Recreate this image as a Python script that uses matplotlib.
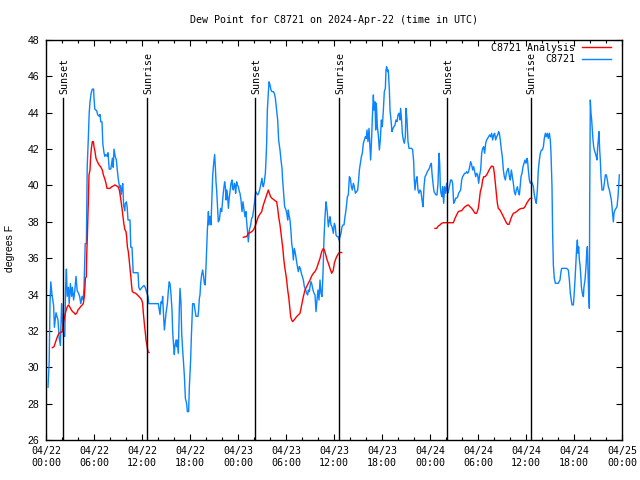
import numpy as np
import matplotlib
matplotlib.use("Agg")
import matplotlib.pyplot as plt

# ---------------- data (hours since 2024-04-22 00:00 UTC, degrees F) -------------
obs_hours = [
    0.25, 0.4, 0.5, 0.6, 0.75, 0.95, 1.05, 1.25, 1.5, 1.65, 1.8, 1.95, 2.05, 2.2, 2.35, 2.45,
    2.55, 2.65, 2.8, 2.9, 3.05, 3.2, 3.3, 3.45, 3.6, 3.75, 3.9, 4.05, 4.2, 4.35, 4.5, 4.65,
    4.75, 4.9, 5.05, 5.15, 5.3, 5.4, 5.5, 5.65, 5.8, 5.95, 6.0, 6.1, 6.35, 6.45, 6.65, 6.75,
    6.85, 7.0, 7.1, 7.25, 7.35, 7.5, 7.65, 7.75, 7.9, 8.1, 8.2, 8.3, 8.4, 8.5, 8.65, 8.8,
    8.9, 9.05, 9.2, 9.3, 9.4, 9.55, 9.6, 9.7, 9.85, 9.9, 10.05, 10.15, 10.25, 10.5, 10.6, 10.75,
    10.9, 11.25, 11.5, 11.6, 11.75, 12.0, 12.25, 12.4, 12.6, 12.75, 12.85, 13.0,
    14.04, 14.17, 14.25, 14.375, 14.5, 14.58, 14.7, 14.8, 14.9, 15.0, 15.17, 15.3, 15.4, 15.5,
    15.6, 15.75, 15.83, 15.9, 16.04, 16.1, 16.25, 16.33, 16.4, 16.54, 16.67, 16.75, 16.875,
    16.96, 17.08, 17.17, 17.3, 17.42, 17.58, 17.67, 17.83, 17.92, 18.08, 18.17, 18.25, 18.33,
    18.5, 18.625, 18.75, 19.0, 19.08, 19.17, 19.25, 19.33, 19.46, 19.58, 19.7, 19.8, 19.9,
    20.0, 20.17, 20.3, 20.375, 20.5, 20.625, 20.75, 20.83, 20.96, 21.08, 21.17, 21.25, 21.33,
    21.46, 21.54, 21.67, 21.83, 21.96, 22.08, 22.2, 22.33, 22.42, 22.5, 22.58, 22.7, 22.8,
    22.9, 23.0, 23.125, 23.25, 23.33, 23.42, 23.54, 23.625, 23.7, 23.83, 23.92, 24.04, 24.17,
    24.25, 24.375, 24.5, 24.625, 24.75, 24.875, 25.0, 25.08, 25.21, 25.29, 25.42, 25.58, 25.71,
    25.83, 25.92, 26.0, 26.125, 26.21, 26.33, 26.46, 26.58, 26.75, 26.875, 27.0, 27.08, 27.17,
    27.29, 27.42, 27.5, 27.58, 27.67, 27.79, 27.875, 28.0, 28.125, 28.25, 28.42, 28.54, 28.67,
    28.83, 28.96, 29.08, 29.25, 29.375, 29.5, 29.58, 29.71, 29.83, 30.0, 30.125, 30.21, 30.29,
    30.375, 30.5, 30.625, 30.71, 30.83, 30.92, 31.04, 31.17, 31.29, 31.42, 31.54, 31.67, 31.79,
    31.92, 32.04, 32.17, 32.29, 32.46, 32.58, 32.71, 32.79, 32.92, 33.0, 33.125, 33.25, 33.375,
    33.5, 33.625, 33.75, 33.875, 34.0, 34.125, 34.25, 34.375, 34.5, 34.625, 34.75, 34.875, 35.0,
    35.08, 35.17, 35.29, 35.42, 35.5, 35.625, 35.75, 35.92, 36.04, 36.17, 36.25, 36.375, 36.5,
    36.625, 36.75, 36.875, 37.0, 37.125, 37.25, 37.375, 37.5, 37.58, 37.67, 37.79, 37.92, 38.04,
    38.17, 38.29, 38.42, 38.54, 38.67, 38.83, 38.96, 39.08, 39.17, 39.29, 39.42, 39.54, 39.67,
    39.79, 39.92, 40.04, 40.125, 40.25, 40.375, 40.5, 40.58, 40.71, 40.79, 40.92, 41.0, 41.125,
    41.21, 41.29, 41.42, 41.54, 41.67, 41.79, 41.92, 42.04, 42.17, 42.29, 42.42, 42.5, 42.58,
    42.71, 42.79, 42.92, 43.0, 43.125, 43.25, 43.375, 43.5, 43.625, 43.75, 43.875, 44.0, 44.125,
    44.25, 44.33, 44.46, 44.54, 44.67, 44.79, 44.92, 45.0, 45.125, 45.25, 45.375, 45.71, 45.83,
    45.96, 46.04, 46.125, 46.25, 46.375, 46.5, 46.625,
    46.75, 46.875, 47.0, 47.125, 47.25, 47.375, 47.5, 47.67, 47.79, 47.92, 48.04, 48.17, 48.25,
    48.375, 48.5, 48.625, 48.75, 48.875, 49.0, 49.125, 49.21, 49.29, 49.375, 49.5, 49.58, 49.71,
    49.83, 49.96, 50.08, 50.21, 50.33, 50.46, 50.58, 50.71, 50.83, 50.96, 51.08, 51.21, 51.33,
    51.46, 51.58, 51.71, 51.83, 51.96, 52.08, 52.21, 52.33, 52.46, 52.58, 52.71, 52.83, 52.96,
    53.08, 53.21, 53.33, 53.46, 53.58, 53.71, 53.83, 53.96, 54.08, 54.21, 54.33, 54.46, 54.58,
    54.71, 54.83, 54.96, 55.08, 55.21, 55.33, 55.46, 55.58, 55.71, 55.83, 55.96, 56.08, 56.21,
    56.33, 56.46, 56.58, 56.67, 56.79, 56.92, 57.04, 57.17, 57.29, 57.42, 57.54, 57.67, 57.79,
    57.92, 58.04, 58.17, 58.29, 58.42, 58.54, 58.67, 58.79, 58.92, 59.04, 59.17,
    59.25, 59.375, 59.5, 59.625, 59.75, 59.875, 60.0, 60.125, 60.21, 60.29, 60.42, 60.54, 60.67,
    60.79, 60.92, 61.04, 61.17, 61.29, 61.42, 61.54, 61.67, 61.79, 61.92, 62.04, 62.17, 62.29,
    62.42, 62.54, 62.67, 62.79, 62.92, 63.04, 63.125, 63.25, 63.33, 63.42, 63.54, 63.67, 64.04,
    64.25, 64.375, 64.46, 65.08, 65.29, 65.42, 65.54, 65.625, 65.75, 65.92, 66.0, 66.125, 66.25,
    66.33, 66.42, 66.5, 66.58, 66.67, 66.75, 66.83, 66.92, 67.04, 67.17, 67.25, 67.375, 67.5,
    67.58, 67.67, 67.75, 67.83, 67.92, 67.96, 68.04, 68.125, 68.21, 68.29, 68.375, 68.46, 68.54,
    68.67, 68.79, 68.875, 68.96, 69.04, 69.125, 69.21, 69.29, 69.375, 69.5, 69.67, 69.79, 69.92,
    70.04, 70.17, 70.29, 70.42, 70.54, 70.67, 70.79, 70.92, 71.0, 71.125, 71.25, 71.375, 71.5,
    71.58, 71.67,
]
obs_values = [
    28.9, 30.3, 33.5, 34.7, 34.0, 33.4, 32.2, 33.0, 32.6, 31.6, 31.2, 33.5, 32.6, 31.7, 31.7, 34.4,
    35.4, 33.9, 34.4, 33.5, 34.6, 33.9, 34.4, 33.7, 34.2, 35.0, 34.2, 34.1, 33.9, 33.5, 33.9, 33.7,
    34.4, 36.8, 36.8, 41.0, 42.7, 44.0, 44.6, 45.1, 45.3, 45.3, 44.8, 44.2, 44.1, 43.9, 43.8, 43.9,
    43.5, 43.5, 42.3, 41.8, 41.6, 41.7, 41.6, 41.8, 40.9, 40.9, 41.2, 41.5, 41.0, 42.0, 41.6, 41.4,
    40.9, 40.3, 39.9, 40.0, 39.5, 40.0, 40.1, 38.9, 38.6, 39.0, 39.1, 38.8, 38.1, 38.1, 36.6, 36.6,
    35.2, 35.2, 35.2, 34.4, 34.25, 34.4, 34.5, 34.4, 34.1, 33.9, 33.5, 33.5,
    33.5, 33.15, 32.9, 33.6, 33.5, 33.9, 32.8, 32.05, 32.5, 32.97, 33.5, 34.25, 34.7, 34.6,
    34.16, 33.15, 32.05, 31.5, 30.7, 31.13, 31.5, 31.13, 31.5, 30.77, 33.3, 34.34, 33.5,
    31.87, 30.95, 30.4, 29.5, 28.3, 28.0, 27.56, 27.56, 28.94, 30.4, 31.7, 32.6, 33.5,
    33.5, 33.15, 32.8, 32.8, 33.15, 33.8, 33.98, 34.6, 35.1, 35.35, 34.98, 34.6, 34.53,
    35.53, 37.55, 38.56, 37.83, 38.3, 37.83, 39.4, 40.5, 41.22, 41.7, 41.0, 40.2, 39.75,
    38.65, 38.0, 38.1, 38.74, 38.56, 39.2, 39.75, 40.2, 39.93, 39.2, 39.75, 39.4, 38.74,
    39.3, 39.66, 40.12, 40.3, 39.84, 39.75, 40.12, 40.03, 39.57, 40.2, 40.03, 39.93, 39.66,
    39.57, 39.2, 38.56, 39.1, 38.65, 38.28, 38.56, 38.0, 37.37, 36.9, 37.55, 37.83, 38.2,
    38.28, 38.56, 38.83, 39.3, 39.66, 39.57, 39.48, 39.57, 39.84, 40.12, 40.4, 40.03, 39.93,
    40.2, 40.67, 41.4, 42.32, 44.15, 45.07, 45.7, 45.53, 45.25, 45.16, 45.16, 45.07, 44.8,
    44.15, 43.6, 42.5, 41.95, 41.4, 40.94, 40.3, 39.57, 38.83, 38.65, 38.38, 38.1, 38.65,
    38.38, 38.1, 37.46, 36.82, 36.45, 35.9, 36.54, 36.27, 35.9, 35.54, 35.26, 35.54, 35.44,
    35.17, 34.99, 34.8, 34.44, 34.25, 34.07, 33.98, 34.25, 34.16, 34.44, 34.71, 34.53, 34.25,
    34.07, 33.98, 33.06, 33.7, 34.25, 33.7, 34.8, 34.07, 33.89, 35.17, 37.1, 38.28, 39.1,
    38.83, 38.47, 37.73, 38.1, 38.28, 37.83, 37.73, 37.37, 37.92, 37.73, 37.28, 37.19, 37.19,
    37.0, 37.19, 37.37, 37.73, 37.83, 37.83, 38.28, 38.65, 39.02, 39.38, 39.48, 40.48, 40.4,
    39.93, 39.75, 40.12, 39.93, 39.57, 39.66, 39.75, 40.3, 40.85, 41.22, 41.58, 41.77, 42.32,
    42.5, 42.68, 42.59, 43.05, 42.41, 43.14, 42.13, 41.4, 42.68, 43.69, 44.98, 44.15, 44.6,
    43.05, 44.52, 43.23, 42.78, 41.95, 42.5, 43.6, 43.23, 44.15, 45.16, 45.34, 46.35, 46.53,
    46.26, 46.35, 45.25, 44.15, 43.6, 42.96, 43.14, 43.23, 43.33, 43.6, 43.51, 43.88, 43.97,
    43.6, 44.24, 43.51, 42.87, 42.5, 42.32, 42.68, 44.24, 43.6, 42.41, 42.04, 42.04, 41.95,
    41.31, 40.3, 39.75, 40.3, 40.48, 39.75, 39.57,
    39.75, 39.66, 39.2, 38.83, 39.93, 40.48, 40.58, 40.76, 40.85, 40.94, 41.13, 41.22, 40.67,
    40.12, 39.66, 39.57, 39.48, 39.48, 40.12, 41.77, 41.22, 39.93, 39.57, 39.38, 39.93, 39.02,
    39.93, 39.57, 40.12, 39.57, 39.75, 40.03, 40.3, 40.3, 40.12, 39.02, 39.11, 39.3, 39.3,
    39.38, 39.57, 39.66, 39.75, 40.3, 40.48, 40.58, 40.67, 40.67, 40.76, 40.67, 40.76, 41.03,
    41.31, 41.13, 40.85, 41.03, 40.76, 40.48, 40.67, 40.58, 40.12, 40.58, 40.85, 41.77, 42.04,
    42.13, 41.77, 42.32, 42.5, 42.59, 42.68, 42.78, 42.68, 42.87, 42.5, 42.78, 42.87, 42.5,
    42.68, 42.78, 42.96, 42.87, 42.5, 41.95, 41.58, 40.85, 40.48, 40.3, 40.67, 40.85, 40.94,
    40.48, 40.3, 40.85, 40.48, 40.12, 39.66, 39.48, 39.75, 39.93, 39.66, 39.48,
    39.84, 40.48, 40.67, 41.03, 41.22, 41.4, 41.22, 41.49, 41.31, 40.85, 40.3, 40.12, 40.21,
    40.12, 39.93, 39.48, 39.2, 39.02, 39.75, 40.85, 41.4, 41.77, 41.95, 41.95, 42.13, 42.59,
    42.87, 42.68, 42.87, 42.59, 42.87, 42.5, 41.77, 39.93, 37.37, 35.63, 34.89, 34.62, 34.62,
    34.8, 35.26, 35.44, 35.44, 35.35, 34.8, 34.07, 33.79, 33.43, 33.43, 33.88, 34.8, 35.9,
    36.54, 37.0, 36.27, 36.63, 35.9, 35.63, 35.17, 34.44, 34.07, 33.88, 34.44, 34.8, 35.53,
    36.18, 36.63, 35.35, 34.07, 33.24, 39.02, 44.7, 43.97, 43.6, 43.05, 42.5, 42.13, 41.95,
    41.77, 41.58, 41.4, 42.13, 42.5, 42.96, 41.95, 41.4, 40.48, 39.75, 39.75, 40.12, 40.58,
    40.58, 40.3, 39.93, 39.75, 39.48, 39.2, 38.65, 38.0, 38.47, 38.65, 38.74, 38.83, 39.38,
    39.93, 40.58,
]

ana1_hours = [0.79, 1.0, 1.21, 1.42, 1.625, 2.04, 2.17, 2.33, 2.5, 2.67, 2.83, 3.0, 3.17, 3.33,
              3.5, 3.67, 3.83, 4.0, 4.17, 4.33, 4.54, 4.67, 4.79, 4.875, 4.92, 5.04, 5.08, 5.17,
              5.25, 5.29, 5.375, 5.5, 5.58, 5.67, 5.79, 5.92, 6.0, 6.125, 6.25, 6.42, 6.625,
              6.83, 7.04, 7.17, 7.33, 7.5, 7.625, 8.0, 8.21, 8.42, 8.625, 8.83, 9.0, 9.17, 9.33,
              9.5, 9.625, 9.75, 9.875, 10.0, 10.08, 10.17, 10.29, 10.42, 10.5, 10.625, 10.71,
              10.79, 11.0, 11.21, 11.42, 11.625, 11.83, 11.96, 12.08, 12.17, 12.25, 12.33,
              12.42, 12.5, 12.58, 12.67, 12.75, 12.875]
ana1_values = [31.08, 31.13, 31.41, 31.68, 31.87, 31.96, 32.42, 32.79, 33.12, 33.34, 33.43, 33.3,
               33.15, 33.06, 33.0, 32.91, 32.97, 33.15, 33.24, 33.34, 33.43, 33.52, 33.89, 34.44,
               34.89, 34.98, 36.08, 37.18, 38.47, 39.02, 40.58, 40.85, 41.58, 42.04, 42.41, 42.41,
               42.13, 41.86, 41.49, 41.31, 41.13, 41.03, 40.85, 40.58, 40.39, 40.12, 39.84, 39.84,
               39.93, 39.97, 40.03, 39.97, 39.93, 39.75, 39.29, 38.74, 38.28, 37.83, 37.55, 37.46,
               37.18, 36.63, 36.36, 35.81, 35.44, 34.89, 34.44, 34.16, 34.1, 34.07, 33.98, 33.89,
               33.79, 33.7, 33.52, 32.97, 32.6, 32.24, 31.87, 31.5, 31.32, 31.05, 30.86, 30.81]

ana2_hours = [24.67, 25.08, 25.29, 25.5, 25.71, 25.92, 26.125, 26.33, 26.54, 26.75, 26.96, 27.17,
              27.375, 27.58, 27.79, 27.92, 28.08, 28.25, 28.42, 28.625, 28.83, 28.96, 29.08,
              29.25, 29.375, 29.5, 29.625, 29.71, 29.83, 29.96, 30.08, 30.21, 30.33, 30.46,
              30.58, 30.71, 30.83, 31.0, 31.17, 31.33, 31.54, 31.75, 31.875, 32.0, 32.17,
              32.375, 32.58, 32.79, 33.0, 33.21, 33.42, 33.625, 33.83, 34.04, 34.25, 34.46,
              34.67, 34.79, 34.92, 35.08, 35.29, 35.5, 35.71, 35.92, 36.04, 36.17, 36.33,
              36.46, 36.58, 36.75, 36.96]
ana2_values = [37.15, 37.19, 37.37, 37.4, 37.46, 37.55, 37.73, 38.01, 38.28, 38.43, 38.56, 38.93,
               39.2, 39.48, 39.75, 39.57, 39.38, 39.29, 39.24, 39.16, 39.11, 38.74, 38.28, 37.83,
               37.37, 36.91, 36.45, 35.99, 35.54, 35.17, 34.8, 34.25, 33.89, 33.34, 32.79, 32.6,
               32.51, 32.6, 32.69, 32.79, 32.88, 32.97, 33.24, 33.52, 33.89, 34.25, 34.44, 34.62,
               34.8, 35.02, 35.17, 35.26, 35.44, 35.72, 35.99, 36.36, 36.54, 36.45, 36.27, 35.99,
               35.72, 35.44, 35.17, 35.35, 35.72, 35.9, 36.08, 36.18, 36.27, 36.31, 36.31]

ana3_hours = [48.625, 48.83, 49.04, 49.25, 49.46, 49.67, 50.92, 51.125, 51.33, 51.54, 51.75,
              51.96, 52.17, 52.375, 52.58, 52.79, 53.0, 53.21, 53.42, 53.625, 53.83, 54.04,
              54.17, 54.29, 54.46, 54.58, 54.71, 54.875, 55.08, 55.29, 55.5, 55.71, 55.92,
              56.04, 56.17, 56.29, 56.42, 56.54, 56.75, 56.96, 57.17, 57.375, 57.58, 57.71,
              57.875, 58.0, 58.125, 58.25, 58.42, 58.625, 58.83, 59.04, 59.25, 59.46, 59.67,
              59.875, 60.08, 60.29, 60.5, 60.71]
ana3_values = [37.64, 37.64, 37.77, 37.83, 37.92, 37.95, 37.95, 38.19, 38.38, 38.56, 38.6, 38.61,
               38.74, 38.83, 38.89, 38.93, 38.83, 38.74, 38.61, 38.47, 38.47, 38.74, 39.2, 39.66,
               39.93, 40.3, 40.48, 40.48, 40.58, 40.76, 40.94, 41.07, 41.03, 40.67, 40.12, 39.57,
               39.02, 38.74, 38.65, 38.47, 38.29, 38.1, 37.92, 37.86, 37.86, 38.01, 38.19, 38.32,
               38.47, 38.5, 38.56, 38.65, 38.71, 38.74, 38.74, 38.83, 39.02, 39.16, 39.29, 39.29]

sun_hours = [2.17, 12.67, 26.17, 36.63, 50.17, 60.58]
sun_labels = ["Sunset", "Sunrise", "Sunset", "Sunrise", "Sunset", "Sunrise"]

tick_hours = [0, 6, 12, 18, 24, 30, 36, 42, 48, 54, 60, 66, 72]
tick_labels = ["04/22\n00:00", "04/22\n06:00", "04/22\n12:00", "04/22\n18:00",
               "04/23\n00:00", "04/23\n06:00", "04/23\n12:00", "04/23\n18:00",
               "04/24\n00:00", "04/24\n06:00", "04/24\n12:00", "04/24\n18:00",
               "04/25\n00:00"]
y_ticks = [26, 28, 30, 32, 34, 36, 38, 40, 42, 44, 46, 48]

title = "Dew Point for C8721 on 2024-Apr-22 (time in UTC)"
ylabel = "degrees F"

# ---------------- plotting ----------------
MONO = "DejaVu Sans Mono"
SANS = "Liberation Sans"
RED = "#ff0000"
BLUE = "#0a84ff"

fig = plt.figure(figsize=(6.4, 4.8), dpi=100)
ax = fig.add_axes([46 / 640, 40 / 480, 576 / 640, 400 / 480])

ax.plot(obs_hours, obs_values, color=BLUE, lw=1.0, label="C8721", zorder=3)
ax.plot(ana1_hours, ana1_values, color=RED, lw=1.0, label="C8721 Analysis", zorder=4)
ax.plot(ana2_hours, ana2_values, color=RED, lw=1.0, zorder=4)
ax.plot(ana3_hours, ana3_values, color=RED, lw=1.0, zorder=4)

for h, lab in zip(sun_hours, sun_labels):
    ax.plot([h, h], [26, 44.8], color="black", lw=1.0, zorder=5)
    ax.text(h + 0.15, 45.05, lab, rotation=90, ha="center", va="bottom",
            fontsize=7.2, family=MONO, zorder=6)

ax.set_xlim(0, 72)
ax.set_ylim(26, 48)
ax.set_xticks(tick_hours)
ax.set_xticklabels(tick_labels, family=MONO, fontsize=7.2, linespacing=1.25)
ax.set_xticks(np.arange(0, 73, 2), minor=True)
ax.set_yticks(y_ticks)
ax.set_yticklabels([str(v) for v in y_ticks], family=SANS, fontsize=7.5)
ax.tick_params(axis="both", which="major", direction="in", length=4, width=0.8,
               top=True, right=True, pad=4)
ax.tick_params(axis="x", which="minor", direction="in", length=2, width=0.8, top=True)
ax.tick_params(axis="y", which="minor", left=False, right=False)
ax.tick_params(axis="y", which="major", pad=5)
for s in ax.spines.values():
    s.set_linewidth(1.0)

handles, labels = ax.get_legend_handles_labels()
order = [labels.index("C8721 Analysis"), labels.index("C8721")]
ax.legend([handles[i] for i in order], [labels[i] for i in order],
          loc="upper right", bbox_to_anchor=((611 - 46) / 576, (440 - 43) / 400),
          frameon=False, markerfirst=False, borderpad=0, borderaxespad=0,
          handlelength=2.9, handletextpad=0.7, labelspacing=0.12,
          prop={"family": MONO, "size": 7.2})

fig.text(334 / 640, 1 - 20 / 480, title, ha="center", va="center", family=MONO, fontsize=7.2)
fig.text(10 / 640, 1 - 248 / 480, ylabel, rotation=90, ha="center", va="center",
         family=SANS, fontsize=7.5)

fig.savefig("out.png", dpi=100)
